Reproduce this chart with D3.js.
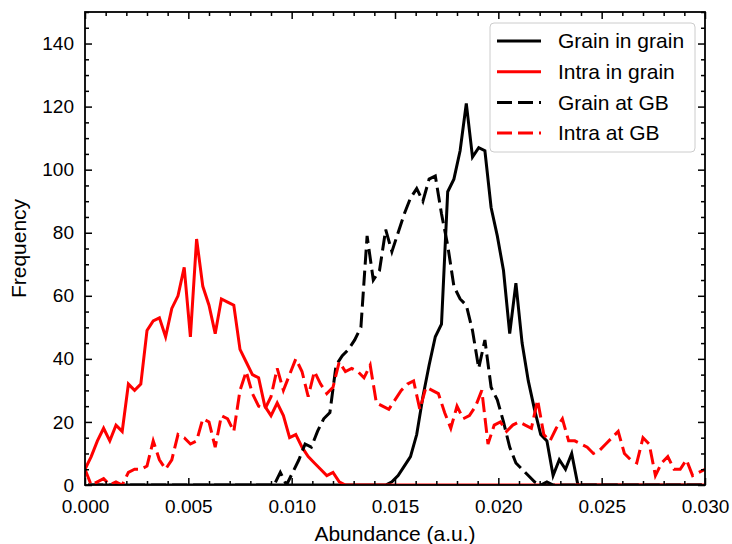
<!DOCTYPE html>
<html>
<head>
<meta charset="utf-8">
<script src="https://cdn.jsdelivr.net/npm/d3@7"></script>
<style>
  body { margin: 0; background: #fff; }
  svg text { font-family: Arial, "Liberation Sans", sans-serif; }
</style>
</head>
<body>
<div id="chart"></div>
<script>
// histogram bins (abundance, a.u.)
const intraBins = d3.range(101).map(i => +(i * 0.0003).toFixed(5));
const grainBins = d3.range(100).map(i => +(i * 0.0003 + 0.00015).toFixed(5));

// frequency per bin
const grainInGrain = [
  0, 0, 0, 0, 0, 0, 0, 0, 0, 0,
  0, 0, 0, 0, 0, 0, 0, 0, 0, 0,
  0, 0, 0, 0, 0, 0, 0, 0, 0, 0,
  0, 0, 0, 0, 0, 0, 0, 0, 0, 0,
  0, 0, 0, 0, 0, 0, 0, 0, 0, 1,
  3, 6, 9, 16, 28, 38, 47, 51, 93, 97,
  106, 121, 104, 107, 106, 88, 79, 68, 48, 64,
  45, 33, 24, 16, 14, 3, 8, 5, 10, 0,
  0, 0, 0, 0, 0, 0, 0, 0, 0, 0,
  0, 0, 0, 0, 0, 0, 0, 0, 0, 0
];
const intraInGrain = [
  5, 9, 14, 18, 14, 19, 17, 32, 30, 32,
  49, 52, 53, 47, 56, 60, 69, 47, 78, 63,
  57, 48, 59, 58, 57, 43, 39, 35, 34, 25,
  22, 26, 22, 15, 16, 12, 9, 7, 5, 3,
  4, 1, 0, 0, 0, 0, 0, 0, 0, 0,
  0, 0, 0, 0, 0, 0, 0, 0, 0, 0,
  0, 0, 0, 0, 0, 0, 0, 0, 0, 0,
  0, 0, 0, 0, 0, 0, 0, 0, 0, 0,
  0, 0, 0, 0, 0, 0, 0, 0, 0, 0,
  0, 0, 0, 0, 0, 0, 0, 0, 0, 0,
  0
];
const grainAtGB = [
  0, 0, 0, 0, 0, 0, 0, 0, 0, 0,
  0, 0, 0, 0, 0, 0, 0, 0, 0, 0,
  0, 0, 0, 0, 0, 0, 0, 0, 0, 0,
  0, 4, 0, 4, 8, 13, 12, 17, 21, 23,
  38, 41, 43, 46, 50, 79, 65, 68, 81, 74,
  80, 86, 91, 94, 90, 97, 98, 86, 76, 63,
  59, 57, 49, 37, 46, 31, 27, 20, 12, 7,
  5, 3, 1, 0, 1, 0, 0, 0, 0, 0,
  0, 0, 0, 0, 0, 0, 0, 0, 0, 0,
  0, 0, 0, 0, 0, 0, 0, 0, 0, 0
];
const intraAtGB = [
  5, 0, 1, 2, 0, 1, 0, 4, 5, 5,
  6, 14, 8, 5, 8, 16, 15, 13, 14, 21,
  20, 12, 22, 21, 17, 30, 36, 29, 25, 24,
  28, 37, 30, 35, 40, 36, 28, 36, 32, 29,
  31, 39, 36, 37, 36, 34, 38, 26, 25, 24,
  27, 30, 32, 33, 24, 31, 30, 29, 23, 18,
  25, 21, 22, 25, 30, 13, 19, 20, 17, 19,
  20, 19, 18, 27, 16, 14, 18, 21, 14, 14,
  13, 12, 10, 11, 13, 15, 17, 10, 8, 7,
  15, 13, 3, 7, 9, 5, 5, 8, 3, 4,
  5
];

const xTicks = [0, 0.005, 0.010, 0.015, 0.020, 0.025, 0.030];
const yTicks = [0, 20, 40, 60, 80, 100, 120, 140];
const seriesNames = ["Grain in grain", "Intra in grain", "Grain at GB", "Intra at GB"];

const W = 732, H = 544;
const margin = {top: 12, right: 27, bottom: 59, left: 85};
const width = W - margin.left - margin.right,
      height = H - margin.top - margin.bottom;

const svg = d3.select("#chart").append("svg")
  .attr("width", W).attr("height", H);

const x = d3.scaleLinear().domain([0, 0.030]).range([margin.left, margin.left + width]);
const y = d3.scaleLinear().domain([0, 150]).range([margin.top + height, margin.top]);

svg.append("clipPath").attr("id", "plotclip")
  .append("rect")
  .attr("x", margin.left).attr("y", margin.top)
  .attr("width", width).attr("height", height);

const series = [
  {name: seriesNames[0], xs: grainBins, ys: grainInGrain, color: "#000", dash: null},
  {name: seriesNames[1], xs: intraBins, ys: intraInGrain, color: "#ff0000", dash: null},
  {name: seriesNames[2], xs: grainBins, ys: grainAtGB, color: "#000", dash: "15,6"},
  {name: seriesNames[3], xs: intraBins, ys: intraAtGB, color: "#ff0000", dash: "15,6"}
];

const line = d3.line().x(d => x(d[0])).y(d => y(d[1]));

const plot = svg.append("g").attr("clip-path", "url(#plotclip)");
series.forEach(s => {
  plot.append("path")
    .datum(s.xs.map((v, i) => [v, s.ys[i]]))
    .attr("fill", "none")
    .attr("stroke", s.color)
    .attr("stroke-width", 3)
    .attr("stroke-linejoin", "miter")
    .attr("stroke-dasharray", s.dash)
    .attr("d", line);
});

// axes, ticks pointing inward on all four sides
const xMinor = d3.range(0, 31).filter(i => i % 5 !== 0).map(i => i / 1000);
const yMinor = d3.range(0, 151, 5).filter(v => v % 20 !== 0);

function styleAxis(g) {
  g.select(".domain").remove();
  g.selectAll(".tick line").attr("stroke-width", 1.5);
  g.attr("font-size", 19).attr("font-family", "Arial, 'Liberation Sans', sans-serif");
  g.selectAll("text").attr("fill", "#000");
}

const yBottom = y(0), yTop = y(150), xLeft = x(0), xRight = x(0.030);

svg.append("g").attr("transform", `translate(0,${yBottom})`)
  .call(d3.axisBottom(x).tickValues(xTicks).tickFormat(d3.format(".3f"))
    .tickSizeInner(-7).tickSizeOuter(0).tickPadding(15))
  .call(styleAxis);
svg.append("g").attr("transform", `translate(0,${yBottom})`)
  .call(d3.axisBottom(x).tickValues(xMinor).tickFormat("").tickSizeInner(-4).tickSizeOuter(0))
  .call(styleAxis);
svg.append("g").attr("transform", `translate(0,${yTop})`)
  .call(d3.axisTop(x).tickValues(xTicks).tickFormat("").tickSizeInner(-7).tickSizeOuter(0))
  .call(styleAxis);
svg.append("g").attr("transform", `translate(0,${yTop})`)
  .call(d3.axisTop(x).tickValues(xMinor).tickFormat("").tickSizeInner(-4).tickSizeOuter(0))
  .call(styleAxis);

svg.append("g").attr("transform", `translate(${xLeft},0)`)
  .call(d3.axisLeft(y).tickValues(yTicks).tickSizeInner(-7).tickSizeOuter(0).tickPadding(11))
  .call(styleAxis);
svg.append("g").attr("transform", `translate(${xLeft},0)`)
  .call(d3.axisLeft(y).tickValues(yMinor).tickFormat("").tickSizeInner(-4).tickSizeOuter(0))
  .call(styleAxis);
svg.append("g").attr("transform", `translate(${xRight},0)`)
  .call(d3.axisRight(y).tickValues(yTicks).tickFormat("").tickSizeInner(-7).tickSizeOuter(0))
  .call(styleAxis);
svg.append("g").attr("transform", `translate(${xRight},0)`)
  .call(d3.axisRight(y).tickValues(yMinor).tickFormat("").tickSizeInner(-4).tickSizeOuter(0))
  .call(styleAxis);

svg.append("rect")
  .attr("x", xLeft).attr("y", yTop)
  .attr("width", xRight - xLeft).attr("height", yBottom - yTop)
  .attr("fill", "none").attr("stroke", "#000").attr("stroke-width", 1.8);

// axis titles
svg.append("text")
  .attr("x", (xLeft + xRight) / 2).attr("y", 541)
  .attr("text-anchor", "middle").attr("font-size", 21)
  .text("Abundance (a.u.)");
svg.append("text")
  .attr("transform", `translate(26,${(yTop + yBottom) / 2}) rotate(-90)`)
  .attr("text-anchor", "middle").attr("font-size", 21)
  .text("Frequency");

// legend
const legend = svg.append("g");
legend.append("rect")
  .attr("x", 490).attr("y", 23).attr("width", 205).attr("height", 129)
  .attr("rx", 4)
  .attr("fill", "#fff").attr("fill-opacity", 0.8)
  .attr("stroke", "#cccccc").attr("stroke-width", 1);
series.forEach((s, i) => {
  const ly = 41 + i * 30.7;
  legend.append("line")
    .attr("x1", 497).attr("x2", 541).attr("y1", ly).attr("y2", ly)
    .attr("stroke", s.color).attr("stroke-width", 3)
    .attr("stroke-dasharray", s.dash);
  legend.append("text")
    .attr("x", 558).attr("y", ly).attr("dy", "0.35em")
    .attr("font-size", 21)
    .text(s.name);
});
</script>
</body>
</html>
